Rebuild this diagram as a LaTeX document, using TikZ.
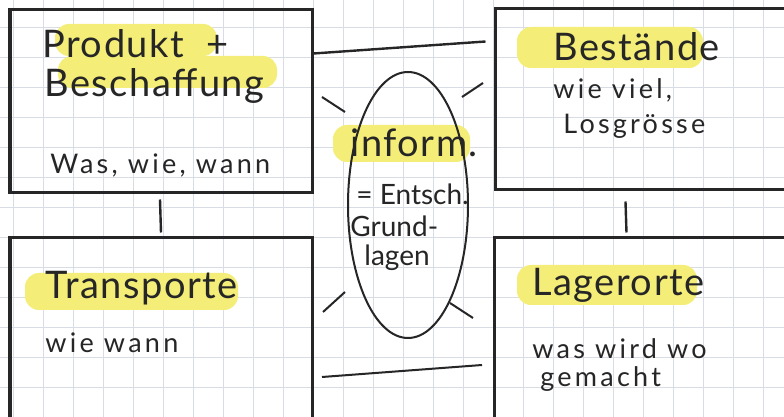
\documentclass[tikz,border=0pt]{standalone}
\usepackage{fontspec}
\setmainfont{Lato}
\usetikzlibrary{shapes.geometric,calc}
\definecolor{ink}{RGB}{38,38,38}
\definecolor{marker}{RGB}{244,238,120}
\definecolor{paper}{RGB}{216,221,229}

\begin{document}
\begin{tikzpicture}[x=0.5pt, y=-0.5pt,
  box/.style = {shape=rectangle, draw=ink, line width=1.5pt, inner sep=0pt},
  title/.style = {anchor=west, inner sep=0pt, text=ink,
    font=\fontsize{19}{22}\selectfont\addfontfeature{LetterSpace=4}},
  note/.style = {anchor=west, inner sep=0pt, text=ink,
    font=\fontsize{13.5}{16}\selectfont\addfontfeature{LetterSpace=12}},
  inner/.style = {anchor=west, inner sep=0pt, text=ink,
    font=\fontsize{14}{16}\selectfont},
  link/.style = {draw=ink, line width=1.2pt},
  ray/.style = {draw=ink, line width=1pt},
  hl/.style = {fill=marker, rounded corners=7pt}]

  \clip (0,0) rectangle (784,417);
  \fill[white] (0,0) rectangle (784,417);
  \begin{scope}[shift={(13,28)}]
    \draw[paper, line width=0.5pt, step=15pt] (-60,-60) grid (800,420);
  \end{scope}

  % marker
  \fill[hl] (55,24) rectangle (217,56);
  \fill[hl] (58,56) rectangle (277,88);
  \fill[hl] (333,125) rectangle (470,162);
  \fill[hl] (517,27) rectangle (703,68);
  \fill[hl] (25,273) rectangle (238,310);
  \fill[hl] (517,265) rectangle (697,305);

  \node[box, minimum width=151pt, minimum height=91.5pt] (prod) at (161,101.5) {};
  \node[box, minimum width=151pt, minimum height=116pt] (trans) at (161,354) {};
  \node[box, minimum width=172.5pt, minimum height=90.5pt] (best) at (667.5,99.5) {};
  \node[box, minimum width=173pt, minimum height=116pt] (lager) at (667,354) {};
  \node[draw=ink, line width=1pt, shape=ellipse, inner sep=0pt,
    minimum width=60pt, minimum height=133pt] (info) at (408,205) {};

  \node[title] (prodtitle) at (42,44) {Produkt~~+};
  \node[title] (beschtitle) at (44,86) {Beschaffung};
  \node[note] (prodnote) at (50,165) {Was, wie, wann};

  \node[title] (besttitle) at (553,47) {Bestände};
  \node[note] (bestnote) at (553,90) {wie viel,};
  \node[note] (bestsize) at (563,126) {Losgrösse};

  \node[title] (transtitle) at (45,288) {Transporte};
  \node[note] (transnote) at (45,343) {wie wann};

  \node[title] (lagertitle) at (532,285) {Lagerorte};
  \node[note] (lagernote) at (532,349) {was wird wo};
  \node[note] (lagerdone) at (540,379) {gemacht};

  \node[title] (infotitle) at (350,143) {inform.};
  \node[inner] (infonote) at (356,194) {= Entsch.};
  \node[inner] (infobase) at (350,226) {Grund-};
  \node[inner] (infolagen) at (364,258) {lagen};

  \draw[link] ($(prod.north east)+(0,45)$) -- ($(best.north west)+(-8,34)$);
  \draw[link] ($(prod.south)+(-1,5)$) -- ($(trans.north)+(0,-4)$);
  \draw[link] ($(best.south west)+(132,10)$) -- ($(lager.north west)+(134,-4)$);

  \draw[ray] ($(info.center)+(-86,-108)$) -- ++(23,15);
  \draw[ray] ($(info.center)+(54,-108)$) -- ++(21,-14);
  \draw[ray] ($(info.center)+(-85,107)$) -- ++(22,-20);
  \draw[ray] ($(info.center)+(42,98)$) -- ++(23,15);
  \draw[ray] ($(info.center)+(-86,172)$) -- ++(160,-12);
\end{tikzpicture}
\end{document}
